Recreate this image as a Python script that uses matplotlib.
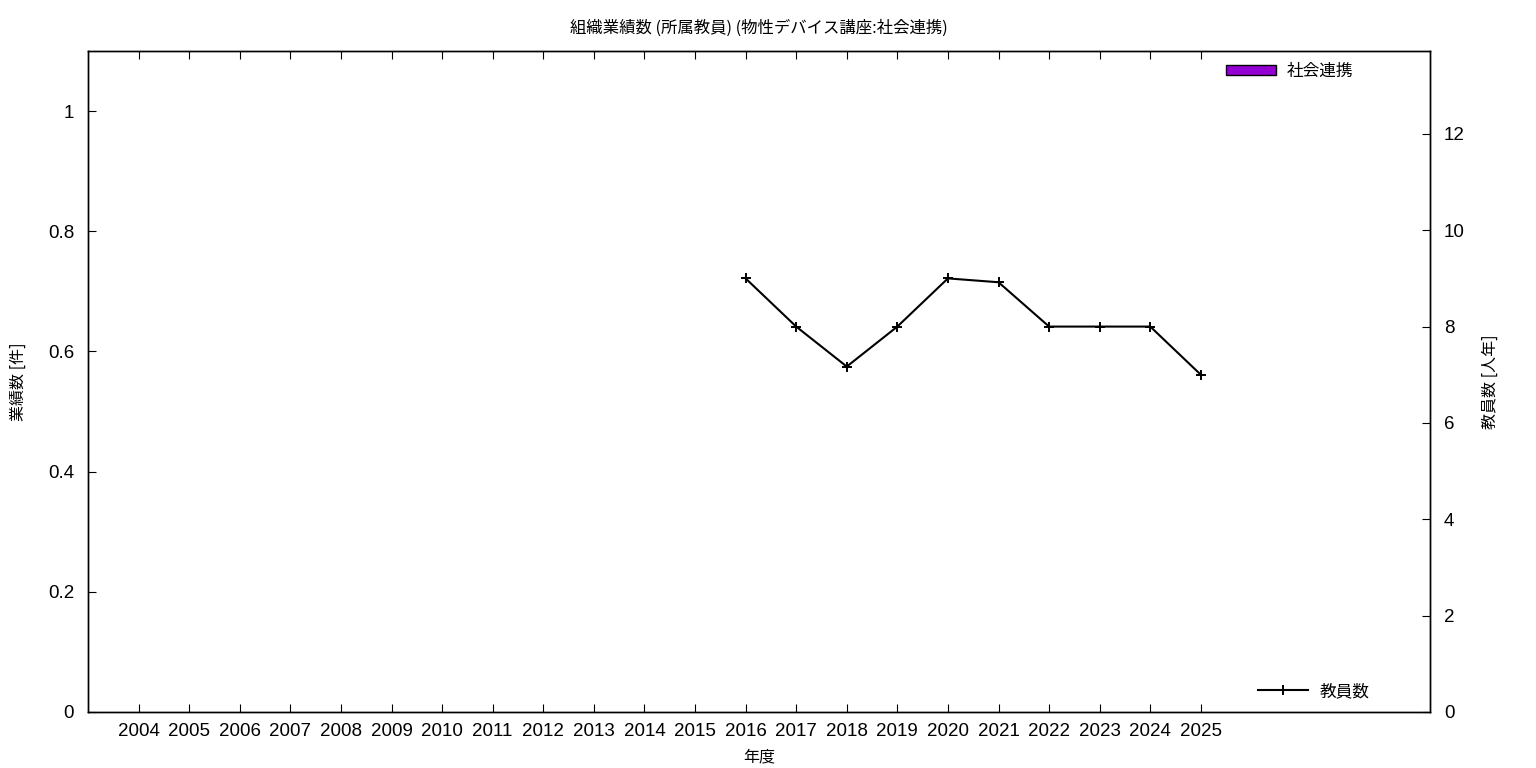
import numpy as np
import matplotlib
matplotlib.use('Agg')
import matplotlib.pyplot as plt
from matplotlib.patches import Patch
from matplotlib.lines import Line2D

plt.rcParams['font.family'] = ['Noto Sans CJK JP', 'DejaVu Sans']
num_font = ['Liberation Sans', 'DejaVu Sans']

# data
years = list(range(2004, 2026))
social = [0] * len(years)  # 社会連携 (all zero)
staff_years = [2016, 2017, 2018, 2019, 2020, 2021, 2022, 2023, 2024, 2025]
staff = [9, 8, 7.17, 8, 9, 8.92, 8, 8, 8, 7]

fig = plt.figure(figsize=(15.36, 7.68), dpi=100)
ax = fig.add_axes([88/1536, 1 - 712/768, (1430-88)/1536, (712-51)/768])
ax2 = ax.twinx()

ax.bar(years, social, width=0.6, color='#9400d3', linewidth=0)
ax.set_xlim(2003, 2029.53)
ax.set_ylim(0, 1.1)
ax.set_yticks(np.arange(0, 1.01, 0.2))
ax.set_yticklabels(['0', '0.2', '0.4', '0.6', '0.8', '1'])
ax.set_xticks(years)
ax.set_xticklabels([str(y) for y in years])
ax.tick_params(axis='x', direction='in', top=True, length=6, labelsize=13.5, pad=8)
ax.tick_params(axis='y', direction='in', right=False, length=6, labelsize=13.5, pad=10)
ax.set_xlabel('年度', fontsize=11.5, labelpad=6)
ax.set_ylabel('業績数 [件]', fontsize=11.5, labelpad=15)

ax2.plot(staff_years, staff, color='black', linewidth=1.5, marker='+',
         markersize=7, markeredgewidth=1.4)
ax2.set_ylim(0, 13.72)
ax2.set_yticks(np.arange(0, 13, 2))
ax2.tick_params(axis='y', direction='in', length=6, labelsize=13.5, pad=10)
ax2.set_ylabel('教員数 [人年]', fontsize=11.5, labelpad=12)

for lab in ax.get_xticklabels() + ax.get_yticklabels() + ax2.get_yticklabels():
    lab.set_family(num_font)

for a in (ax, ax2):
    for s in a.spines.values():
        s.set_linewidth(1)

ax.set_title('組織業績数 (所属教員) (物性デバイス講座:社会連携)', fontsize=11.8, pad=13)

leg1 = ax.legend(handles=[Patch(facecolor='#9400d3', edgecolor='black', label='社会連携')],
                 loc='upper right', bbox_to_anchor=(0.954, 1.005), frameon=False,
                 fontsize=12, handlelength=3.0, handleheight=0.55, handletextpad=0.65)
leg2 = ax2.legend(handles=[Line2D([0], [0], color='black', marker='+', markersize=7,
                                  markeredgewidth=1.4, linewidth=1.5, label='教員数')],
                  loc='lower right', bbox_to_anchor=(0.966, -0.005), frameon=False,
                  fontsize=12, handlelength=3.0, numpoints=1, handletextpad=0.7)

fig.savefig('out.png', dpi=100)
